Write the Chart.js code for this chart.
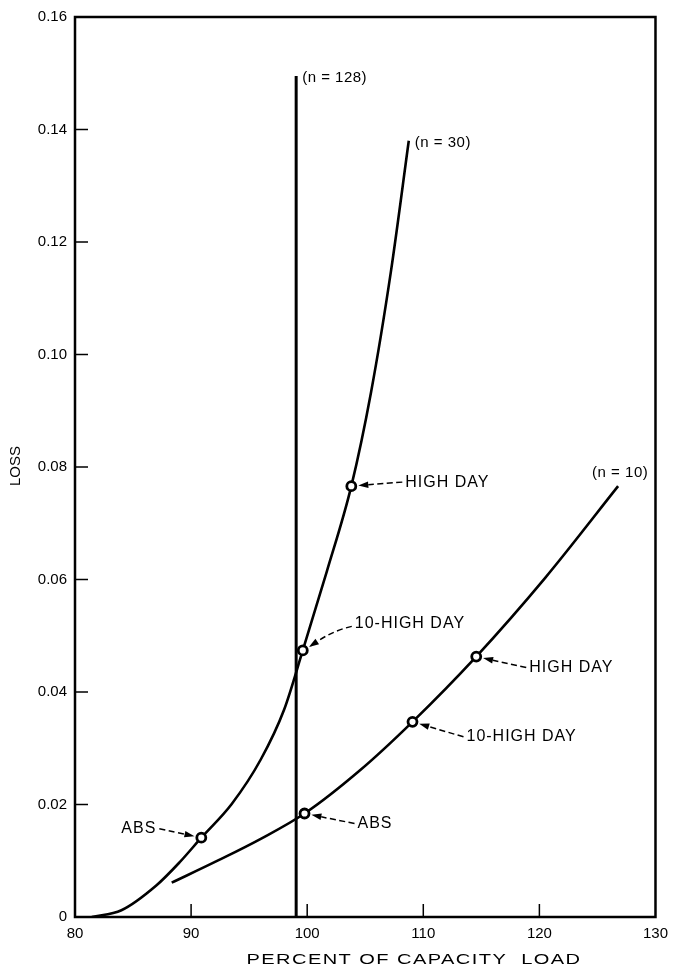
<!DOCTYPE html>
<html>
<head>
<meta charset="utf-8">
<script src="https://cdn.jsdelivr.net/npm/chart.js@4.4.0/dist/chart.umd.min.js"></script>
<style>
  html, body { margin: 0; padding: 0; background: #fff; }
</style>
</head>
<body>
<canvas id="canvas" width="676" height="969"></canvas>
<script>
// axis ticks
const xTicks = [80, 90, 100, 110, 120, 130];
const yTicks = [0, 0.02, 0.04, 0.06, 0.08, 0.10, 0.12, 0.14, 0.16];

// curves (percent of capacity load, loss)
const curve128 = [[99.05, 0], [99.05, 0.1495]];
const curve30 = [
  [81.45, 0], [84, 0.0012], [87, 0.0056], [89, 0.0097], [90.88, 0.0141],
  [93.5, 0.0201], [96, 0.028], [98, 0.0368], [99.62, 0.0474],
  [101.7, 0.0615], [103.8, 0.0766], [105.5, 0.0933], [107.2, 0.1146],
  [108.75, 0.138]
];
const curve10 = [
  [88.33, 0.0061], [92.37, 0.0101], [96, 0.0139], [99.77, 0.0184],
  [104.5, 0.026], [109.07, 0.0347], [114.56, 0.0463], [120.5, 0.0603],
  [126.78, 0.0766]
];

// marked points
const marks30 = [[90.88, 0.0141], [99.62, 0.0474], [103.8, 0.0766]];
const marks10 = [[99.77, 0.0184], [109.07, 0.0347], [114.56, 0.0463]];
const markNames30 = ['ABS', '10-HIGH DAY', 'HIGH DAY'];
const markNames10 = ['ABS', '10-HIGH DAY', 'HIGH DAY'];
const seriesNames = ['(n = 128)', '(n = 30)', '(n = 10)'];

const FONT = '"Liberation Sans", Arial, Helvetica, sans-serif';
const toXY = (arr) => arr.map((p) => ({ x: p[0], y: p[1] }));

// text offsets from the marked point, in pixels
const markLayout30 = [
  { dx: -45, dy: -9, right: true },
  { dx: 52, dy: -27, bend: true },
  { dx: 54, dy: -4 }
];
const markLayout10 = [
  { dx: 53, dy: 10 },
  { dx: 54, dy: 15 },
  { dx: 53, dy: 11 }
];
const nameLayout = [
  { dx: 6, dy: 2 },
  { dx: 6, dy: 2 },
  { dx: -26, dy: -13 }
];

function arrow(ctx, x0, y0, x1, y1, bend) {
  // dashed leader from (x0,y0) to the tip (x1,y1) with a filled head
  let cx = (x0 + x1) / 2, cy = (y0 + y1) / 2;
  if (bend) { cx = x0 - 18; cy = y0 + 4; }
  const ang = Math.atan2(y1 - cy, x1 - cx);
  const headLen = 10;
  const bx = x1 - Math.cos(ang) * headLen, by = y1 - Math.sin(ang) * headLen;
  ctx.save();
  ctx.setLineDash([6, 3.5]);
  ctx.lineWidth = 1.5;
  ctx.beginPath();
  ctx.moveTo(x0, y0);
  ctx.quadraticCurveTo(cx, cy, bx, by);
  ctx.stroke();
  ctx.setLineDash([]);
  ctx.beginPath();
  ctx.moveTo(x1, y1);
  ctx.lineTo(bx + Math.sin(ang) * 3.3, by - Math.cos(ang) * 3.3);
  ctx.lineTo(bx - Math.sin(ang) * 3.3, by + Math.cos(ang) * 3.3);
  ctx.closePath();
  ctx.fill();
  ctx.restore();
}

const decorate = {
  id: 'decorate',
  afterDatasetsDraw(chart) {
    const { ctx, chartArea: a, scales: { x, y } } = chart;
    ctx.save();
    ctx.strokeStyle = '#000';
    ctx.fillStyle = '#000';

    // frame
    ctx.lineWidth = 2.5;
    ctx.strokeRect(a.left, a.top, a.right - a.left, a.bottom - a.top);

    // inward ticks
    ctx.lineWidth = 1.5;
    ctx.beginPath();
    xTicks.slice(1, -1).forEach((v) => {
      const px = x.getPixelForValue(v);
      ctx.moveTo(px, a.bottom);
      ctx.lineTo(px, a.bottom - 13);
    });
    yTicks.slice(1, -1).forEach((v) => {
      const py = y.getPixelForValue(v);
      ctx.moveTo(a.left, py);
      ctx.lineTo(a.left + 13, py);
    });
    ctx.stroke();

    // labels at marked points
    ctx.font = '16px ' + FONT;
    ctx.letterSpacing = '1px';
    ctx.textBaseline = 'middle';
    const doMarks = (marks, names, layout) => {
      marks.forEach((m, i) => {
        const px = x.getPixelForValue(m[0]);
        const py = y.getPixelForValue(m[1]);
        const L = layout[i];
        const tx = px + L.dx, ty = py + L.dy;
        let sx;
        if (L.right) {
          ctx.textAlign = 'right';
          ctx.fillText(names[i], tx, ty);
          sx = tx + 3;
        } else {
          ctx.textAlign = 'left';
          ctx.fillText(names[i], tx, ty);
          sx = tx - 3;
        }
        const ang = Math.atan2(ty - py, sx - px);
        const tipX = px + Math.cos(ang) * 7;
        const tipY = py + Math.sin(ang) * 7;
        arrow(ctx, sx, ty + (L.bend ? 3 : 0), tipX, tipY, L.bend);
      });
    };
    doMarks(marks30, markNames30, markLayout30);
    doMarks(marks10, markNames10, markLayout10);

    // series names at curve ends
    ctx.font = '15px ' + FONT;
    ctx.letterSpacing = '0.5px';
    ctx.textAlign = 'left';
    const ends = [curve128[curve128.length - 1], curve30[curve30.length - 1], curve10[curve10.length - 1]];
    ends.forEach((e, i) => {
      const px = x.getPixelForValue(e[0]);
      const py = y.getPixelForValue(e[1]);
      ctx.fillText(seriesNames[i], px + nameLayout[i].dx, py + nameLayout[i].dy);
    });

    // axis titles
    ctx.letterSpacing = '1px';
    ctx.font = '14px ' + FONT;
    const xt = 'PERCENT OF CAPACITY  LOAD';
    const w = ctx.measureText(xt).width;
    const stretch = 335 / w;
    ctx.save();
    ctx.translate(414, 960);
    ctx.scale(stretch, 1);
    ctx.textAlign = 'center';
    ctx.fillText(xt, 0, 0);
    ctx.restore();

    ctx.letterSpacing = '0px';
    ctx.font = '15px ' + FONT;
    ctx.save();
    ctx.translate(16, 466);
    ctx.rotate(-Math.PI / 2);
    ctx.textAlign = 'center';
    ctx.fillText('LOSS', 0, 0);
    ctx.restore();

    ctx.restore();
  }
};

const lineSet = (data, width) => ({
  data: toXY(data),
  showLine: true,
  borderColor: '#000',
  borderWidth: width,
  pointRadius: 0,
  cubicInterpolationMode: 'monotone',
  fill: false,
  order: 2
});
const markSet = (data) => ({
  data: toXY(data),
  showLine: false,
  pointRadius: 4.5,
  pointBorderWidth: 2.8,
  pointBorderColor: '#000',
  pointBackgroundColor: '#fff',
  order: 1
});

new Chart(document.getElementById('canvas').getContext('2d'), {
  type: 'scatter',
  data: {
    datasets: [
      Object.assign(lineSet(curve128, 3), { cubicInterpolationMode: 'default', tension: 0 }),
      lineSet(curve30, 2.6),
      lineSet(curve10, 2.6),
      markSet(marks30),
      markSet(marks10)
    ]
  },
  options: {
    responsive: false,
    animation: false,
    events: [],
    layout: { padding: { top: 16, right: 15, left: 0, bottom: 0 } },
    plugins: { legend: { display: false }, tooltip: { enabled: false } },
    scales: {
      x: {
        type: 'linear',
        min: 80,
        max: 130,
        grid: { display: false, drawTicks: false },
        border: { display: false },
        afterFit: (s) => { s.height = 52; },
        ticks: {
          stepSize: 10,
          color: '#000',
          padding: 8,
          font: { family: FONT, size: 15 }
        }
      },
      y: {
        type: 'linear',
        min: 0,
        max: 0.16,
        grid: { display: false, drawTicks: false },
        border: { display: false },
        afterFit: (s) => { s.width = 75; },
        ticks: {
          stepSize: 0.02,
          color: '#000',
          padding: 8,
          font: { family: FONT, size: 15 },
          callback: (v) => (v === 0 ? '0' : Number(v).toFixed(2))
        }
      }
    }
  },
  plugins: [decorate]
});
</script>
</body>
</html>
